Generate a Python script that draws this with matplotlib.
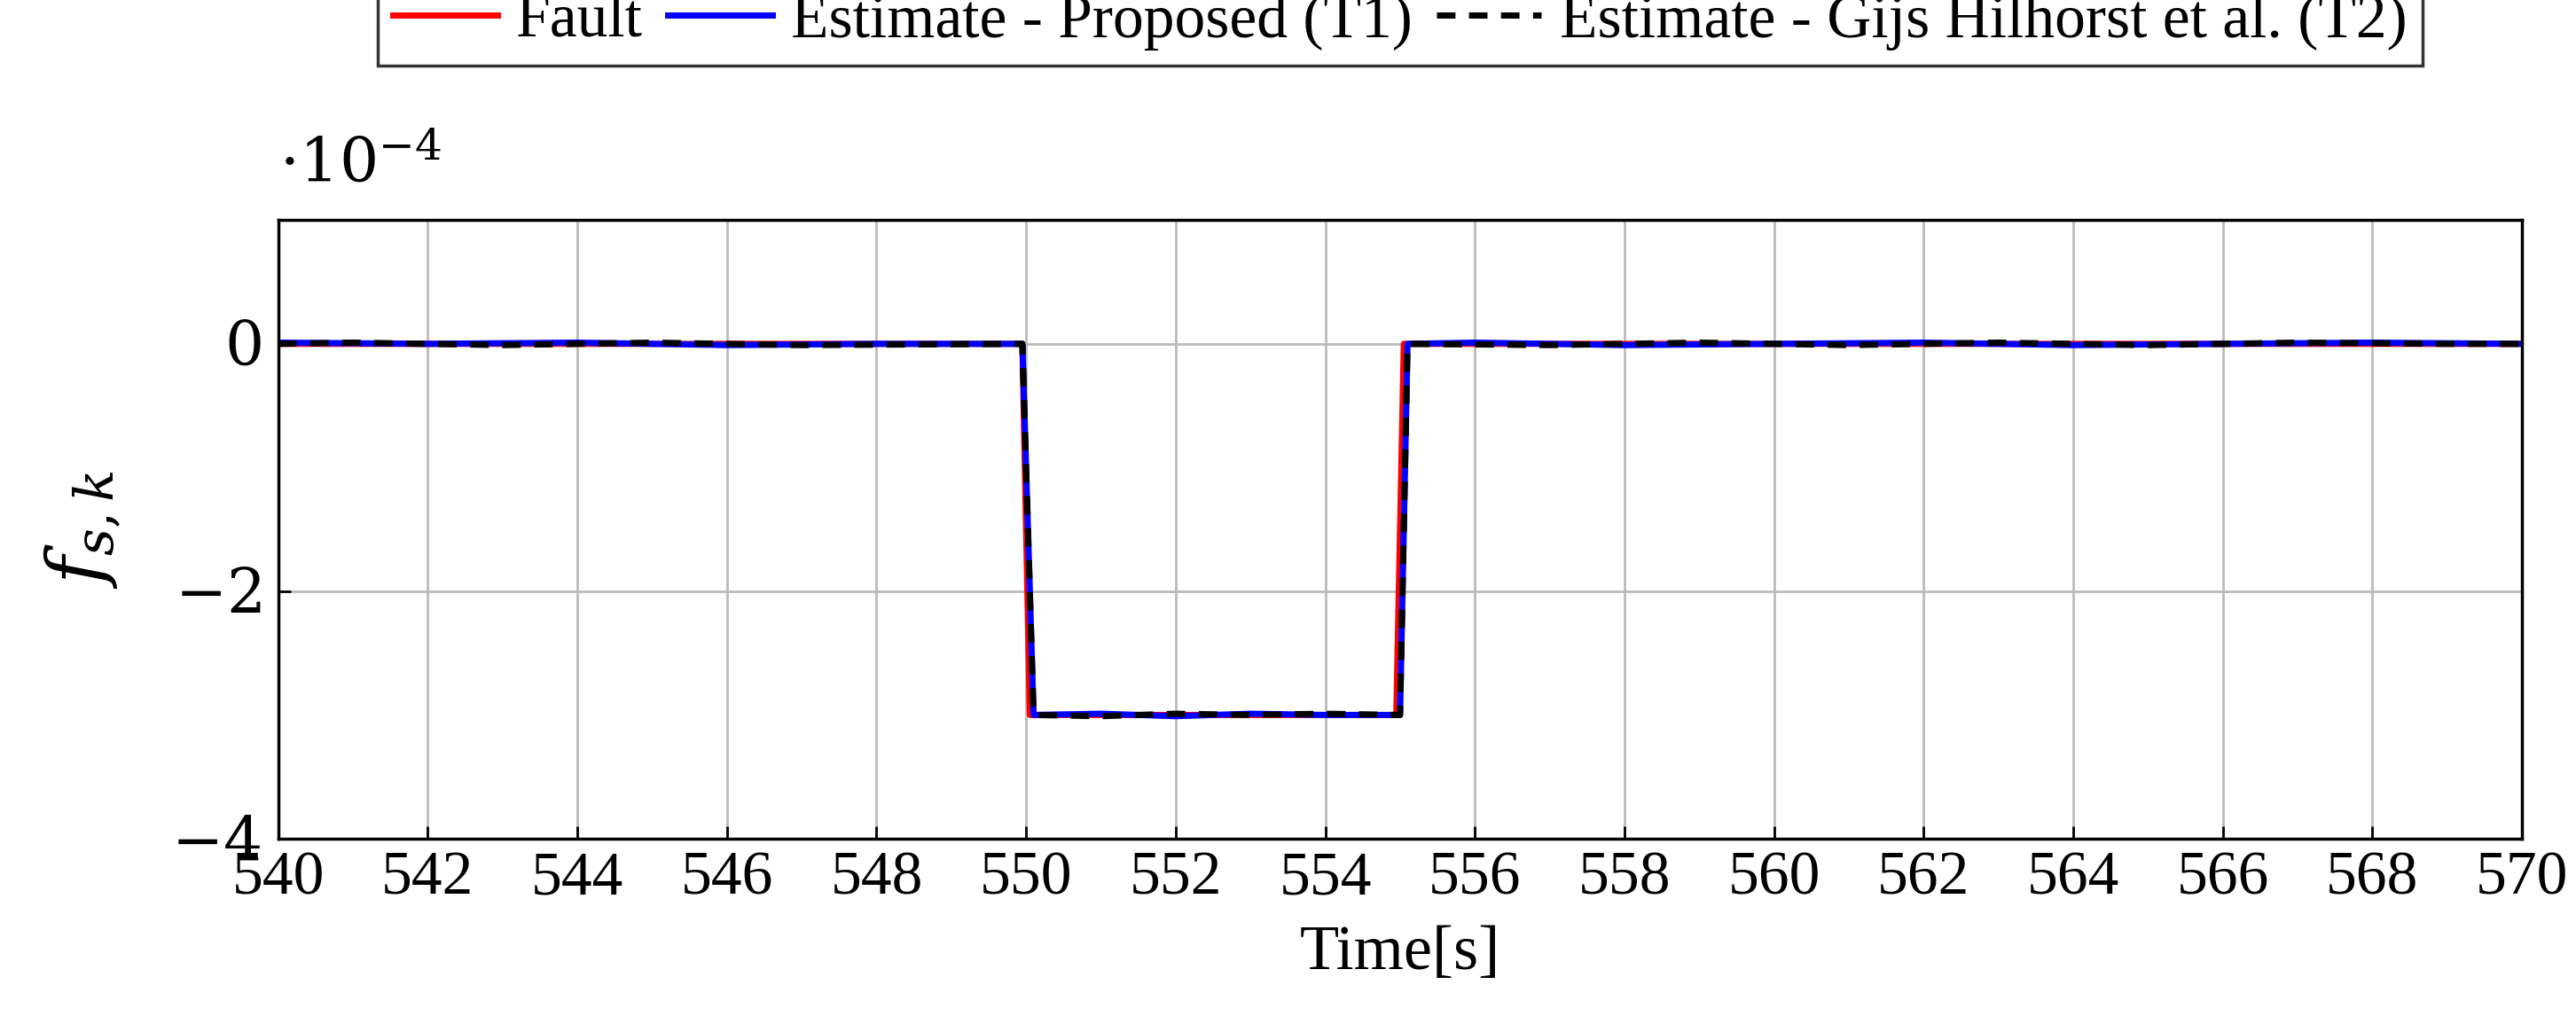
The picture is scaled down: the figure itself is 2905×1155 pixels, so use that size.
import numpy as np
import matplotlib.pyplot as plt

plt.rcParams['font.family'] = ['Liberation Serif', 'DejaVu Serif']
plt.rcParams['mathtext.fontset'] = 'dejavuserif'

# fault signal (units of 1e-4)
fault_t = [540, 549.95, 550.05, 554.95, 555.05, 570]
fault_v = [0, 0, -3, -3, 0, 0]

# estimates (units of 1e-4)
est1_t = [540, 542, 544, 546, 548, 549.95, 550.1, 551, 552, 553, 554, 555.0, 555.1,
          556, 558, 560, 562, 564, 566, 568, 570]
est1_v = [0.01, 0.0, 0.01, -0.01, 0.0, 0.0, -3.0, -2.99, -3.01, -2.99, -3.0, -3.0, 0.0,
          0.01, -0.01, 0.0, 0.01, -0.01, 0.0, 0.01, 0.0]
est2_t = [540, 541, 543, 545, 547, 549.95, 550.1, 551, 552, 553, 554, 555.0, 555.1,
          557, 559, 561, 563, 565, 567, 569, 570]
est2_v = [0.0, 0.01, -0.01, 0.01, -0.01, 0.0, -3.0, -3.01, -2.99, -3.0, -2.99, -3.0, 0.0,
          -0.01, 0.01, -0.01, 0.01, -0.01, 0.01, 0.0, 0.0]

xticks = np.arange(540, 571, 2)
yticks = [-4, -2, 0]

fig = plt.figure(figsize=(29.05, 11.55), dpi=100)
ax = fig.add_axes([0.108, 0.181, 0.871, 0.604])

ax.plot(fault_t, fault_v, color='red', lw=5, label='Fault')
ax.plot(est1_t, est1_v, color='blue', lw=5, label='Estimate - Proposed (T1)')
ax.plot(est2_t, est2_v, color='black', lw=5, ls=(0, (3, 2.2)),
        label='Estimate - Gijs Hilhorst et al. (T2)')

ax.set_xlim(540, 570)
ax.set_ylim(-4, 1)
ax.set_xticks(xticks)
ax.set_yticks(yticks)
ax.set_yticklabels([r'$-4$', r'$-2$', r'$0$'])
ax.tick_params(labelsize=50, direction='in', length=10, width=2)
ax.tick_params(axis='x', pad=10)
ax.tick_params(axis='y', pad=14)
ax.grid(True, color='#bbbbbb', lw=2)
for s in ax.spines.values():
    s.set_linewidth(2.5)

ax.set_xlabel('Time[s]', fontsize=52, labelpad=14)
ax.set_ylabel(r'$f_{s,k}$', fontsize=62, labelpad=40)
ax.text(0, 1.04, r'$\cdot 10^{-4}$', transform=ax.transAxes, fontsize=50,
        ha='left', va='bottom')

leg = ax.legend(loc='lower center', bbox_to_anchor=(0.5, 1.2), ncol=3, fontsize=50,
                frameon=True, fancybox=False, edgecolor='black', handlelength=1.7,
                handletextpad=0.3, columnspacing=0.4, borderpad=0.25)
leg.get_frame().set_linewidth(2.5)

fig.savefig('out.png', dpi=100)
